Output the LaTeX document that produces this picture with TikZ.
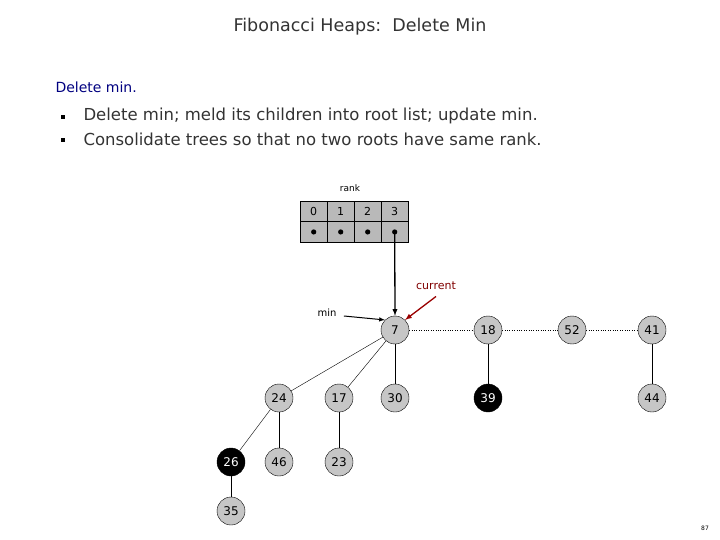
\documentclass[tikz,border=0pt]{standalone}
\usepackage{fontspec}
\setmainfont{DejaVu Sans}
\begin{document}
\begin{tikzpicture}[x=1pt,y=-1pt,
  nd/.style={circle,draw,fill=gray!45,minimum size=28pt,inner sep=0pt,font=\fontsize{12}{14}\selectfont},
  bk/.style={nd,fill=black,text=white},
  cell/.style={draw,fill=gray!55,minimum width=27pt,minimum height=20.5pt,inner sep=0pt,anchor=north west,font=\fontsize{11}{13}\selectfont},
  tx/.style={anchor=west,font=\fontsize{16.5}{19}\selectfont,text=black!80},
  bul/.style={fill=black,minimum size=4pt,inner sep=0pt},
  ed/.style={line width=0.8pt},
  lab/.style={font=\fontsize{9}{11}\selectfont}]
\useasboundingbox (0,0) rectangle (720,540);
\node[font=\fontsize{17.5}{20}\selectfont,text=black!80] (title) at (360,27) {Fibonacci Heaps:\ \ Delete Min};
\node[tx,text=blue!50!black,font=\fontsize{14}{16}\selectfont] (h) at (52,87) {Delete min.};
\node[bul] (b1) at (63,117) {};
\node[bul] (b2) at (63,140) {};
\node[tx] (t1) at (80,116) {Delete min; meld its children into root list; update min.};
\node[tx] (t2) at (80,139) {Consolidate trees so that no two roots have same rank.};
% array
\foreach \i in {0,1,2,3}{
  \node[cell] (c\i) at (300+27*\i,201) {\i};
  \node[cell] (d\i) at (300+27*\i,221.5) {};
  \fill (d\i.center) circle (2.6pt);
}
\node[lab] (rank) at (350,188) {rank};
% nodes
\node[nd] (n7) at (395,330) {7};
\node[nd] (n18) at (488,330) {18};
\node[nd] (n52) at (572,330) {52};
\node[nd] (n41) at (652,330) {41};
\node[nd] (n30) at (395,398) {30};
\node[bk] (n39) at (488,398) {39};
\node[nd] (n44) at (652,398) {44};
\node[nd] (n24) at (279,398) {24};
\node[nd] (n17) at (339,398) {17};
\node[bk] (n26) at (231,462) {26};
\node[nd] (n46) at (279,462) {46};
\node[nd] (n23) at (339,462) {23};
\node[nd] (n35) at (231,511) {35};
\draw[dotted] (n7)--(n18) (n18)--(n52) (n52)--(n41);
\draw[ed] (n7)--(n30) (n18)--(n39) (n41)--(n44) (n24)--(n46) (n17)--(n23) (n26)--(n35);
\draw (n7)--(n24) (n7)--(n17) (n24)--(n26);
\draw[line width=1.3pt,-latex] (d3.center)--(n7.north);
\node[lab,text=red!50!black,font=\fontsize{11}{13}\selectfont] (cur) at (436,286) {current};
\draw[line width=1.3pt,red!60!black,-latex] (cur.south) ++(0,3) coordinate (cs) (cs)--(n7.north east);
\node[lab,font=\fontsize{10}{12}\selectfont] (min) at (327,313) {min};
\draw[line width=1pt,-latex] (min.east)++(4,3) coordinate (ms) (ms)--(n7.north west);
\node[font=\fontsize{6}{7}\selectfont] (pg) at (705,528) {87};
\end{tikzpicture}
\end{document}
